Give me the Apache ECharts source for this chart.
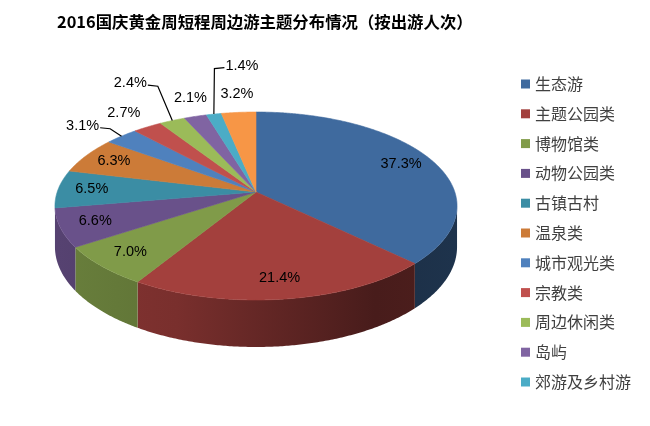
<!DOCTYPE html>
<html>
<head>
<meta charset="utf-8">
<title>2016国庆黄金周短程周边游主题分布情况</title>
<script src="https://cdn.jsdelivr.net/npm/echarts@6/dist/echarts.min.js"></script>
<style>
html, body { margin: 0; padding: 0; background: #fff; }
#main { width: 650px; height: 426px; }
</style>
</head>
<body>
<div id="main"></div>
<script>
// 主题类别（最后一项图例中未显示）
var categories = ['生态游', '主题公园类', '博物馆类', '动物公园类', '古镇古村', '温泉类',
	'城市观光类', '宗教类', '周边休闲类', '岛屿', '郊游及乡村游', '其他'];
// 占比 %
var values = [37.3, 21.4, 7.0, 6.6, 6.5, 6.3, 3.1, 2.7, 2.4, 2.1, 1.4, 3.2];
var legendNames = categories.slice(0, 11);

var colors = ['#3F6A9E', '#A3403D', '#809B49', '#69518A', '#3B8DA4', '#CC7B38',
	'#4F81BD', '#C0504D', '#9BBB59', '#8064A2', '#4BACC6', '#F79646'];

// 标签布局：in 内部 / out 外部，偏移，是否引导线
var labelPlace = ['in', 'in', 'in', 'in', 'in', 'in', 'out', 'out', 'out', 'out', 'out', 'out'];
var labelShift = [[0, 0], [0, 0], [0, 0], [0, 0], [0, 0], [0, 0],
	[-9, 2], [0, 0], [-24, -22], [8, -2], [37, -32], [2, -2]];
var labelLeader = [0, 0, 0, 0, 0, 0, 1, 0, 1, 0, 1, 0];

// 3D饼图几何参数
var CX = 256, CY = 192, RA = 198.8, RB = 91.9, K = 0.149, DEPTH = 40;
var total = 0;
for (var i = 0; i < values.length; i++) total += values[i];

var LABEL_FONT = '14.5px "Liberation Sans", Arial, sans-serif';
var measureCtx = document.createElement('canvas').getContext('2d');
measureCtx.font = LABEL_FONT;

function proj(theta, r, h) {
	var a = r * Math.sin(theta), b = -r * Math.cos(theta);
	var d = 1 - K * b;
	return [CX + RA * a / d, CY + (RB * b + (h || 0)) / d];
}
function arcPoints(t1, t2, r, h) {
	var pts = [];
	var n = Math.max(2, Math.ceil((t2 - t1) / (Math.PI / 360)));
	for (var s = 0; s <= n; s++) {
		pts.push(proj(t1 + (t2 - t1) * s / n, r, h));
	}
	return pts;
}
function shade(hex, f) {
	var c = parseInt(hex.slice(1), 16);
	var r = Math.round(((c >> 16) & 255) * f);
	var g = Math.round(((c >> 8) & 255) * f);
	var b = Math.round((c & 255) * f);
	return 'rgb(' + r + ',' + g + ',' + b + ')';
}

var frontL = Math.acos(-K);               // 前侧面可见范围
var frontR = 2 * Math.PI - Math.acos(-K);

function makeRender(idx) {
	return function (params, api) {
		var start = 0;
		for (var j = 0; j < idx; j++) start += values[j];
		var v = api.value(0);
		var t1 = start / total * 2 * Math.PI;
		var t2 = (start + v) / total * 2 * Math.PI;
		var color = colors[idx];
		var children = [];

		// 侧面
		var s1 = Math.max(t1, frontL), s2 = Math.min(t2, frontR);
		if (s2 > s1) {
			var top = arcPoints(s1, s2, 1, 0);
			var bottom = arcPoints(s1, s2, 1, DEPTH).reverse();
			children.push({
				type: 'polygon',
				z2: 1,
				shape: { points: top.concat(bottom) },
				style: {
					fill: new echarts.graphic.LinearGradient(CX - RA, 0, CX + RA, 0, [
						{ offset: 0, color: shade(color, 0.82) },
						{ offset: 0.3, color: shade(color, 0.74) },
						{ offset: 0.8, color: shade(color, 0.44) },
						{ offset: 1, color: shade(color, 0.48) }
					], true),
					stroke: null
				}
			});
		}

		// 顶面
		var pts = [proj(0, 0, 0)].concat(arcPoints(t1, t2, 1, 0));
		children.push({
			type: 'polygon',
			z2: 5,
			shape: { points: pts },
			style: { fill: color, stroke: color, lineWidth: 0.6 }
		});

		// 标签
		var mid = (t1 + t2) / 2;
		var txt = v.toFixed(1) + '%';
		var pos = labelPlace[idx] === 'in' ? proj(mid, 0.83, 0) : proj(mid, 1.25, 0);
		pos = [pos[0] + labelShift[idx][0], pos[1] + labelShift[idx][1]];
		children.push({
			type: 'text',
			z2: 10,
			x: pos[0],
			y: pos[1],
			style: {
				text: txt,
				fill: '#000',
				font: LABEL_FONT,
				align: 'center',
				verticalAlign: 'middle'
			}
		});

		if (labelLeader[idx]) {
			var edge = proj(mid, 1, 0);
			var hw = measureCtx.measureText(txt).width / 2 + 1;
			var dir = pos[0] < edge[0] ? 1 : -1;
			var anchor = [pos[0] + dir * hw, pos[1] + 2];
			var elbow = [anchor[0] + dir * 10, anchor[1] + 1];
			children.push({
				type: 'polyline',
				z2: 8,
				shape: { points: [anchor, elbow, edge] },
				style: { stroke: '#000', lineWidth: 1.2, fill: null }
			});
		}

		return { type: 'group', children: children };
	};
}

var seriesList = [];
for (var i = 0; i < categories.length; i++) {
	seriesList.push({
		name: categories[i],
		type: 'custom',
		coordinateSystem: 'none',
		silent: true,
		itemStyle: { color: colors[i] },
		renderItem: makeRender(i),
		data: [[values[i]]]
	});
}

var option = {
	backgroundColor: '#fff',
	animation: false,
	title: {
		text: '2016国庆黄金周短程周边游主题分布情况（按出游人次）',
		left: 57,
		top: 14,
		padding: 0,
		textStyle: {
			fontFamily: '"Noto Sans CJK SC", sans-serif',
			fontSize: 16.4,
			fontWeight: 'bold',
			color: '#000'
		}
	},
	legend: {
		orient: 'vertical',
		left: 521,
		top: 74,
		padding: 0,
		icon: 'rect',
		itemWidth: 9,
		itemHeight: 9,
		itemGap: 9.8,
		selectedMode: false,
		data: legendNames,
		textStyle: {
			fontFamily: '"Noto Sans CJK SC", sans-serif',
			fontSize: 16,
			lineHeight: 20,
			color: '#404040'
		}
	},
	series: seriesList
};

var myChart = echarts.init(document.getElementById('main'));
myChart.setOption(option);
window.onresize = function () {
	myChart.resize();
};
</script>
</body>
</html>
